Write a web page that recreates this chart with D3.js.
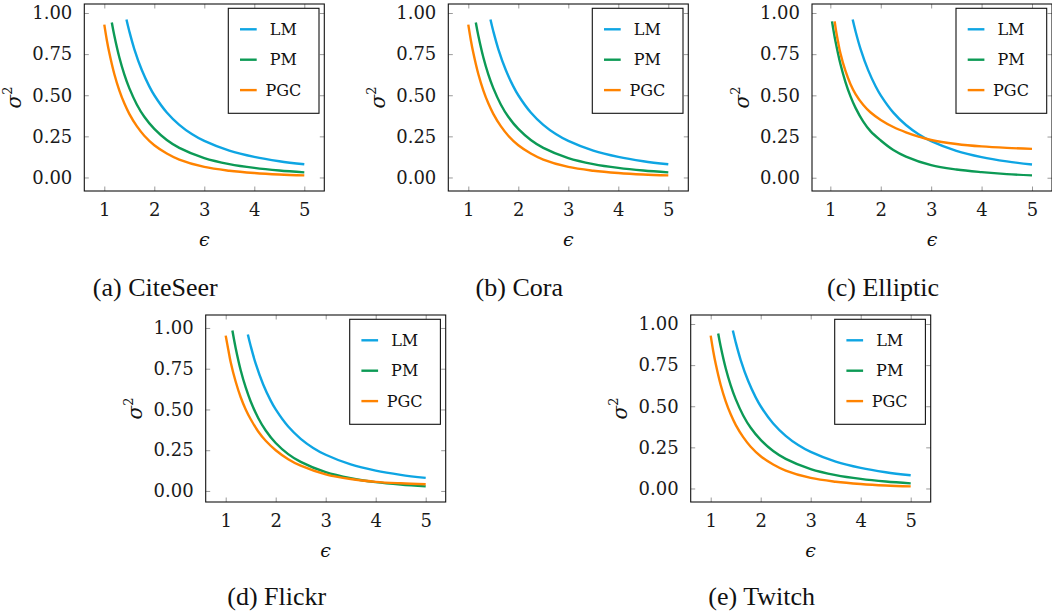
<!DOCTYPE html>
<html><head><meta charset="utf-8">
<script src="https://cdn.jsdelivr.net/npm/d3@7"></script>
<style>body{margin:0;background:#fff}</style>
</head><body>
<svg id="c" width="1052" height="612"></svg>
<script>
// ---------- data ----------
const captions = ["(a) CiteSeer", "(b) Cora", "(c) Elliptic", "(d) Flickr", "(e) Twitch"];
const seriesNames = ["LM", "PM", "PGC"];
const xTickValues = [1, 2, 3, 4, 5];
const yTickValues = [0, 0.25, 0.5, 0.75, 1.0];

// LM (same in every panel)
const lmEps = [1.443, 1.5, 1.6, 1.75, 1.9, 2, 2.25, 2.5, 2.75, 3, 3.5, 4, 4.5, 5];
const lmVar = [0.960, 0.889, 0.781, 0.653, 0.554, 0.500, 0.395, 0.320, 0.264, 0.222, 0.163, 0.125, 0.099, 0.080];

// CiteSeer / Cora / Twitch
const pmEpsStd = [1.15, 1.2, 1.3, 1.4, 1.5, 1.65, 1.8, 2, 2.25, 2.5, 3, 3.5, 4, 4.5, 5];
const pmVarStd = [0.942, 0.863, 0.731, 0.627, 0.543, 0.444, 0.369, 0.295, 0.228, 0.180, 0.118, 0.0815, 0.058, 0.042, 0.031];
const pgcEpsStd = [1.0, 1.05, 1.1, 1.2, 1.3, 1.4, 1.5, 1.65, 1.8, 2, 2.25, 2.5, 3, 3.5, 4, 4.5, 5];
const pgcVarStd = [0.929, 0.836, 0.758, 0.629, 0.530, 0.451, 0.387, 0.312, 0.254, 0.196, 0.146, 0.109, 0.064, 0.041, 0.027, 0.018, 0.0125];

// Elliptic
const pmEpsEll = [1.033, 1.07, 1.1, 1.2, 1.3, 1.4, 1.5, 1.65, 1.8, 2, 2.25, 2.5, 3, 3.5, 4, 4.5, 5];
const pmVarEll = [0.949, 0.881, 0.831, 0.690, 0.581, 0.494, 0.424, 0.342, 0.281, 0.226, 0.168, 0.128, 0.076, 0.050, 0.034, 0.022, 0.014];
const pgcEpsEll = [1.086, 1.12, 1.15, 1.2, 1.3, 1.4, 1.5, 1.65, 1.8, 2, 2.25, 2.5, 2.75, 3, 3.5, 4, 4.5, 5];
const pgcVarEll = [0.949, 0.880, 0.830, 0.755, 0.648, 0.568, 0.508, 0.443, 0.396, 0.351, 0.308, 0.276, 0.250, 0.229, 0.205, 0.190, 0.181, 0.175];

// Flickr
const pmEpsFli = [1.134, 1.2, 1.3, 1.4, 1.5, 1.65, 1.8, 2, 2.25, 2.5, 3, 3.5, 4, 4.5, 5];
const pmVarFli = [0.984, 0.876, 0.741, 0.635, 0.549, 0.448, 0.371, 0.294, 0.226, 0.178, 0.115, 0.078, 0.054, 0.0385, 0.0278];
const pgcEpsFli = [1.0, 1.05, 1.1, 1.2, 1.3, 1.4, 1.5, 1.65, 1.8, 2, 2.25, 2.5, 3, 3.5, 4, 4.5, 5];
const pgcVarFli = [0.953, 0.870, 0.790, 0.670, 0.575, 0.500, 0.440, 0.365, 0.308, 0.250, 0.195, 0.155, 0.102, 0.073, 0.056, 0.047, 0.041];

const panelSeries = [
  [[lmEps, lmVar], [pmEpsStd, pmVarStd], [pgcEpsStd, pgcVarStd]],
  [[lmEps, lmVar], [pmEpsStd, pmVarStd], [pgcEpsStd, pgcVarStd]],
  [[lmEps, lmVar], [pmEpsEll, pmVarEll], [pgcEpsEll, pgcVarEll]],
  [[lmEps, lmVar], [pmEpsFli, pmVarFli], [pgcEpsFli, pgcVarFli]],
  [[lmEps, lmVar], [pmEpsStd, pmVarStd], [pgcEpsStd, pgcVarStd]]
];

// ---------- layout / style ----------
const origins = [[84.3, 4], [448.3, 4], [812, 4], [205.7, 315], [690.7, 315]];
const W = 240, H = 187;
const colors = ["#0ea5e3", "#0c9a55", "#ff8300"];
const tickFont = "'DejaVu Serif', serif";

const svg = d3.select("#c");

panelSeries.forEach((series, pi) => {
  const [ox, oy] = origins[pi];
  const g = svg.append("g").attr("transform", `translate(${ox},${oy})`);

  const allX = series.flatMap(s => s[0]);
  const allY = series.flatMap(s => s[1]);
  const [x0, x1] = d3.extent(allX);
  const [y0, y1] = d3.extent(allY);
  const px = 0.1 * (x1 - x0), py = 0.1 * (y1 - y0);
  const x = d3.scaleLinear().domain([x0 - px, x1 + px]).range([0, W]);
  const y = d3.scaleLinear().domain([y0 - py, y1 + py]).range([H, 0]);

  // ticks on four sides (inside)
  const ax = [
    g.append("g").attr("transform", `translate(0,${H})`).call(d3.axisBottom(x).tickValues(xTickValues).tickSize(-4.5).tickPadding(12).tickFormat(d3.format("d"))),
    g.append("g").call(d3.axisTop(x).tickValues(xTickValues).tickSize(-4.5).tickFormat("")),
    g.append("g").call(d3.axisLeft(y).tickValues(yTickValues).tickSize(-4.5).tickPadding(12).tickFormat(d3.format(".2f"))),
    g.append("g").attr("transform", `translate(${W},0)`).call(d3.axisRight(y).tickValues(yTickValues).tickSize(-4.5).tickFormat(""))
  ];
  ax.forEach(a => {
    a.select(".domain").remove();
    a.selectAll(".tick line").attr("stroke", "#9a9a9a").attr("stroke-width", 1);
    a.selectAll(".tick text").attr("font-family", tickFont).attr("font-size", 18).attr("fill", "#1a1a1a");
  });

  // curves
  const line = d3.line().x(d => x(d[0])).y(d => y(d[1])).curve(d3.curveCatmullRom.alpha(0.5));
  series.forEach((s, si) => {
    const pts = s[0].map((e, i) => [e, s[1][i]]);
    g.append("path").attr("d", line(pts)).attr("fill", "none")
      .attr("stroke", colors[si]).attr("stroke-width", 2.4).attr("stroke-linecap", "butt");
  });

  // frame
  g.append("rect").attr("x", 0).attr("y", 0).attr("width", W).attr("height", H)
    .attr("fill", "none").attr("stroke", "#111").attr("stroke-width", 1.1);

  // legend
  const lw = 90.7, lh = 105;
  const lg = g.append("g").attr("transform", `translate(${W - 5.3 - lw},4.3)`);
  lg.append("rect").attr("width", lw).attr("height", lh).attr("fill", "#fff")
    .attr("stroke", "#111").attr("stroke-width", 1.1);
  seriesNames.forEach((n, i) => {
    const cy = 21 + i * 30.4;
    lg.append("line").attr("x1", 11.7).attr("x2", 28.4).attr("y1", cy).attr("y2", cy)
      .attr("stroke", colors[i]).attr("stroke-width", 2.4);
    lg.append("text").attr("x", 55).attr("y", cy + 5.8).attr("text-anchor", "middle")
      .attr("font-family", tickFont).attr("font-size", 16).attr("fill", "#111").text(n);
  });

  // axis labels
  g.append("text").attr("x", W / 2).attr("y", H + 54.5).attr("text-anchor", "middle")
    .attr("font-family", tickFont).attr("font-style", "italic").attr("font-size", 19)
    .attr("fill", "#111").text("\u03F5");
  const yl = g.append("text").attr("transform", `translate(-63.5,${H / 2}) rotate(-90)`)
    .attr("text-anchor", "middle").attr("font-family", tickFont).attr("font-size", 20).attr("fill", "#111");
  yl.append("tspan").attr("font-style", "italic").text("\u03C3");
  yl.append("tspan").attr("font-size", 13).attr("dy", -9).text("2");

  // caption
  svg.append("text").attr("x", ox + 71).attr("y", oy + (pi < 3 ? 292 : 290))
    .attr("text-anchor", "middle").attr("font-family", "'Liberation Serif', serif")
    .attr("font-size", 26).attr("fill", "#111").text(captions[pi]);
});
</script>
</body></html>
